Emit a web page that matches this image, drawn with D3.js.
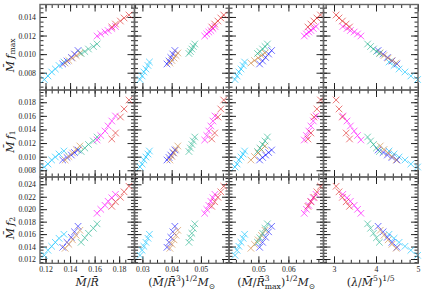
<!DOCTYPE html>
<html lang="en">
<head>
<meta charset="utf-8">
<title>Frequencies vs compactness</title>
<script src="https://d3js.org/d3.v7.min.js"></script>
<style>
    body { margin: 0; background: white; }
    svg text { font-family: "Liberation Serif", "DejaVu Serif", serif; }
</style>
</head>
<body>
<svg id="chart" width="426" height="295"></svg>
<script>

    // one entry per EOS group, same order in every array below
    var groups = ["cyan", "blue", "brown", "teal", "magenta", "red"];
    var colors = ["#00bfff", "#1010ff", "#cd853f", "#20b08a", "#ff00ff", "#dd2020"];

    // x quantities (columns)
    var mOverR = [
        [0.119, 0.122, 0.125, 0.128, 0.131, 0.135],
        [0.134, 0.1375, 0.141, 0.1436, 0.1465],
        [0.136, 0.139, 0.142, 0.145, 0.148],
        [0.149, 0.152, 0.155, 0.159, 0.162],
        [0.162, 0.165, 0.1685, 0.171, 0.174, 0.177],
        [0.174, 0.177, 0.181, 0.184, 0.188]
    ];
    var sqrtDensity = [
        [0.0292, 0.0299, 0.0305, 0.0312, 0.0319, 0.0324],
        [0.0384, 0.0391, 0.0397, 0.0404, 0.0411],
        [0.0394, 0.0401, 0.0408, 0.0415, 0.0421],
        [0.0459, 0.0464, 0.0469, 0.0474, 0.0479],
        [0.0513, 0.0520, 0.0527, 0.0534, 0.0541, 0.0548],
        [0.0537, 0.0547, 0.0558, 0.0568, 0.0578]
    ];
    var sqrtDensityMax = [
        [0.0422, 0.0429, 0.0435, 0.0442, 0.0449, 0.0454],
        [0.0504, 0.0514, 0.0524, 0.0534, 0.0544],
        [0.0475, 0.0487, 0.0499, 0.0510, 0.0522],
        [0.0497, 0.0505, 0.0514, 0.0522, 0.0530],
        [0.0653, 0.0660, 0.0668, 0.0675, 0.0683, 0.0692],
        [0.0665, 0.0675, 0.0685, 0.0695, 0.0707]
    ];
    var tidalRoot = [
        [4.99, 4.83, 4.69, 4.55, 4.43, 4.31],
        [4.50, 4.38, 4.27, 4.17, 4.05],
        [4.48, 4.38, 4.29, 4.19, 4.10],
        [4.08, 4.01, 3.94, 3.87, 3.80],
        [3.64, 3.56, 3.48, 3.39, 3.31, 3.21],
        [3.37, 3.29, 3.20, 3.12, 3.05]
    ];

    // y quantities (rows)
    var fMax = [
        [0.00727, 0.00765, 0.00808, 0.00840, 0.00878, 0.00915],
        [0.00894, 0.00926, 0.00964, 0.01001, 0.01039],
        [0.00904, 0.00931, 0.00958, 0.00985, 0.01012],
        [0.01007, 0.01028, 0.01055, 0.01082, 0.01109],
        [0.01195, 0.01217, 0.01238, 0.01254, 0.01276, 0.01297],
        [0.01292, 0.01324, 0.01356, 0.01389, 0.01421]
    ];
    var f1 = [
        [0.00848, 0.00892, 0.00951, 0.00995, 0.01039, 0.01083],
        [0.00951, 0.00988, 0.01024, 0.01061, 0.01098],
        [0.00951, 0.01002, 0.01054, 0.01105, 0.01157],
        [0.01076, 0.01127, 0.01179, 0.01230, 0.01289],
        [0.01245, 0.01311, 0.01377, 0.01451, 0.01524, 0.01598],
        [0.01260, 0.01348, 0.01583, 0.01701, 0.01833]
    ];
    var f2 = [
        [0.01259, 0.01340, 0.01404, 0.01468, 0.01533, 0.01597],
        [0.01388, 0.01468, 0.01549, 0.01637, 0.01725],
        [0.01372, 0.01436, 0.01508, 0.01581, 0.01661],
        [0.01468, 0.01541, 0.01613, 0.01693, 0.01765],
        [0.01934, 0.01998, 0.02062, 0.02127, 0.02183, 0.02239],
        [0.02046, 0.02119, 0.02191, 0.02279, 0.02368]
    ];

    var xData = [mOverR, sqrtDensity, sqrtDensityMax, tidalRoot];
    var yData = [fMax, f1, f2];

    // axis setup
    var xDomains = [[0.1155, 0.1925], [0.0273, 0.0596], [0.0402, 0.0717], [2.75, 5.0]];
    var yDomains = [[0.00614, 0.01534], [0.00701, 0.0198], [0.01131, 0.02517]];
    var xMajor = [[0.12, 0.14, 0.16, 0.18], [0.03, 0.04, 0.05], [0.05, 0.06], [3, 4, 5]];
    var xMinorStep = [0.005, 0.0025, 0.0025, 0.2];
    var yMajor = [
        [0.008, 0.010, 0.012, 0.014],
        [0.008, 0.010, 0.012, 0.014, 0.016, 0.018],
        [0.012, 0.014, 0.016, 0.018, 0.020, 0.022, 0.024]
    ];
    var yMinorStep = [0.0005, 0.0005, 0.0005];
    var xFormats = [".2f", ".2f", ".2f", "d"];

    var colX = [40, 134.5, 229, 323.5, 418];
    var rowY = [4.5, 90, 177, 263.3];

    var svg = d3.select("#chart");

    function minorTicks(domain, step) {
        var out = [];
        var start = Math.ceil(domain[0] / step - 1e-6);
        for (var k = start; k * step <= domain[1] + 1e-9; k++) out.push(+(k * step).toFixed(6));
        return out;
    }

    function styleTicks(g) {
        g.select(".domain").remove();
        g.selectAll(".tick line").attr("stroke", "#111").attr("stroke-width", 0.9);
        g.selectAll(".tick text").attr("font-size", "7.8px").attr("fill", "#222")
            .style("font-family", '"Liberation Serif", serif');
    }

    var cross = "M-3.3,-3.3L3.3,3.3M-3.3,3.3L3.3,-3.3";

    for (var r = 0; r < 3; r++) {
        for (var c = 0; c < 4; c++) {
            var w = colX[c + 1] - colX[c];
            var h = rowY[r + 1] - rowY[r];
            var x = d3.scaleLinear().domain(xDomains[c]).range([0, w]);
            var y = d3.scaleLinear().domain(yDomains[r]).range([h, 0]);

            var panel = svg.append("g")
                .attr("transform", "translate(" + colX[c] + "," + rowY[r] + ")");

            var xm = minorTicks(xDomains[c], xMinorStep[c]);
            var ym = minorTicks(yDomains[r], yMinorStep[r]);

            // minor ticks, all four sides, pointing inwards
            panel.append("g").attr("transform", "translate(0," + h + ")")
                .call(d3.axisBottom(x).tickValues(xm).tickSize(-3.5).tickFormat("")).call(styleTicks);
            panel.append("g")
                .call(d3.axisTop(x).tickValues(xm).tickSize(-3.5).tickFormat("")).call(styleTicks);
            panel.append("g")
                .call(d3.axisLeft(y).tickValues(ym).tickSize(-3.5).tickFormat("")).call(styleTicks);
            panel.append("g").attr("transform", "translate(" + w + ",0)")
                .call(d3.axisRight(y).tickValues(ym).tickSize(-3.5).tickFormat("")).call(styleTicks);

            // major ticks
            panel.append("g").attr("transform", "translate(0," + h + ")")
                .call(d3.axisBottom(x).tickValues(xMajor[c]).tickSize(-7).tickPadding(3)
                    .tickFormat(r == 2 ? d3.format(xFormats[c]) : ""))
                .call(styleTicks);
            panel.append("g")
                .call(d3.axisTop(x).tickValues(xMajor[c]).tickSize(-7).tickFormat("")).call(styleTicks);
            panel.append("g")
                .call(d3.axisLeft(y).tickValues(yMajor[r]).tickSize(-7).tickPadding(4)
                    .tickFormat(c == 0 ? d3.format(".3f") : ""))
                .call(styleTicks);
            panel.append("g").attr("transform", "translate(" + w + ",0)")
                .call(d3.axisRight(y).tickValues(yMajor[r]).tickSize(-7).tickFormat("")).call(styleTicks);

            // markers
            groups.forEach(function (gName, gi) {
                var xs = xData[c][gi], ys = yData[r][gi];
                panel.append("g").selectAll("path")
                    .data(xs.map(function (v, i) { return [v, ys[i]]; }))
                    .enter()
                    .append("path")
                    .attr("d", cross)
                    .attr("transform", d => "translate(" + x(d[0]) + "," + y(d[1]) + ")")
                    .attr("fill", "none")
                    .attr("stroke", colors[gi])
                    .attr("stroke-width", 1)
                    .attr("opacity", 0.6);
            });

            // frame
            panel.append("rect")
                .attr("width", w).attr("height", h)
                .attr("fill", "none")
                .attr("stroke", "#666")
                .attr("stroke-width", 1.4);
        }
    }

    // rich text helper: parts are [text, italic, shift] with shift in {"", "sup", "sub", "subback"}
    function rich(sel, parts, size, subDrop) {
        var base = 0;
        parts.forEach(function (p) {
            var t = sel.append("tspan").text(p[0]);
            if (p[1]) t.attr("font-style", "italic");
            var target = 0, fs = size;
            if (p[2] == "sup") { target = -0.42 * size; fs = size * 0.7; }
            if (p[2] == "sub" || p[2] == "subback") { target = subDrop * size; fs = size * 0.7; }
            if (p[2] == "subback") t.attr("dx", -0.45 * size);
            t.attr("font-size", fs + "px").attr("dy", target - base);
            base = target;
        });
    }

    var labelFont = '"DejaVu Serif", serif';
    var xLabels = [
        [["M\u0304", 1, ""], ["/", 0, ""], ["R\u0304", 1, ""]],
        [["(", 0, ""], ["M\u0304", 1, ""], ["/", 0, ""], ["R\u0304", 1, ""], ["3", 0, "sup"], [")", 0, ""],
            ["1/2", 0, "sup"], ["M", 1, ""], ["\u2299", 0, "sub"]],
        [["(", 0, ""], ["M\u0304", 1, ""], ["/", 0, ""], ["R\u0304", 1, ""], ["3", 0, "sup"], ["max", 0, "subback"],
            [")", 0, ""], ["1/2", 0, "sup"], ["M", 1, ""], ["\u2299", 0, "sub"]],
        [["(", 0, ""], ["\u03bb", 1, ""], ["/", 0, ""], ["M\u0304", 1, ""], ["5", 0, "sup"], [")", 0, ""],
            ["1/5", 0, "sup"]]
    ];
    var yLabels = [
        [["M\u0304", 1, ""], ["\u2009f", 1, ""], ["max", 0, "sub"]],
        [["M\u0304", 1, ""], ["\u2009f", 1, ""], ["1", 0, "sub"]],
        [["M\u0304", 1, ""], ["\u2009f", 1, ""], ["2", 0, "sub"]]
    ];

    xLabels.forEach(function (parts, c) {
        var t = svg.append("text")
            .attr("x", (colX[c] + colX[c + 1]) / 2)
            .attr("y", 286)
            .attr("text-anchor", "middle")
            .attr("fill", "#222")
            .style("font-family", labelFont);
        rich(t, parts, 11, 0.25);
    });

    yLabels.forEach(function (parts, r) {
        var cy = (rowY[r] + rowY[r + 1]) / 2 + 8;
        var t = svg.append("text")
            .attr("transform", "translate(13.5," + cy + ") rotate(-90)")
            .attr("text-anchor", "middle")
            .attr("fill", "#222")
            .style("font-family", labelFont);
        rich(t, parts, 11, 0.18);
    });

</script>
</body>
</html>
